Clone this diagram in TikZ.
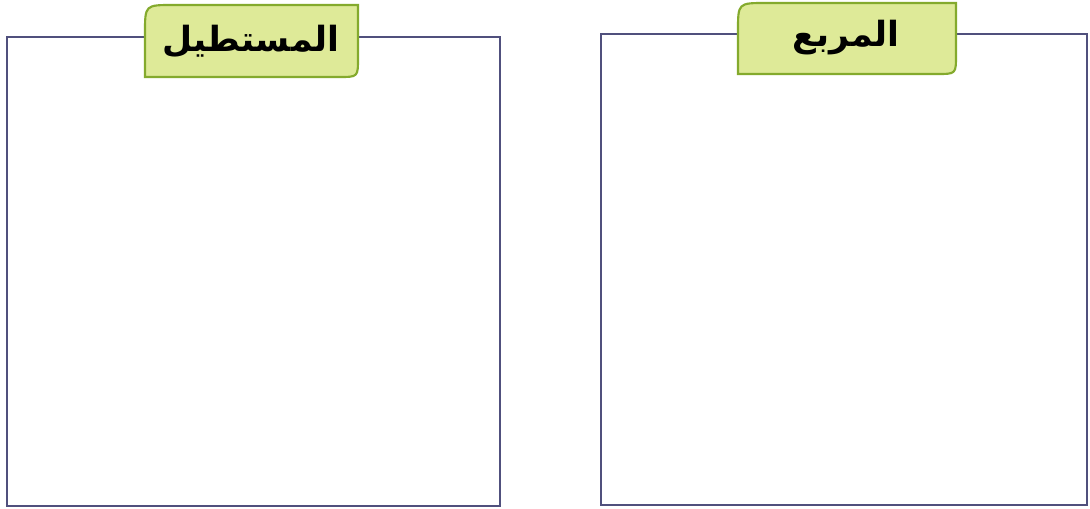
\documentclass[tikz,border=0pt]{standalone}
\usepackage{fontspec}
\TeXXeTstate=1
\newfontfamily\arabicfont[Script=Arabic]{DejaVu Sans}
\definecolor{boxline}{RGB}{80,80,125}
\definecolor{tabfill}{RGB}{222,234,152}
\definecolor{tabline}{RGB}{132,170,45}
\tikzset{
  panel/.style={draw=boxline, line width=1.9pt, fill=none},
  tabshape/.style={draw=tabline, line width=1.6pt, fill=tabfill},
  tablabel/.style={font=\arabicfont\bfseries\fontsize{26}{30}\selectfont, text=black, inner sep=0pt}
}
\begin{document}
\begin{tikzpicture}[x=0.75pt,y=-0.75pt]
\useasboundingbox (0,0) rectangle (1090,509);
\fill[white] (0,0) rectangle (1090,509);
% panels
\coordinate (L1) at (7,37);
\coordinate (L2) at (500,506);
\coordinate (R1) at (601,34);
\coordinate (R2) at (1087,505);
\draw[panel] (L1) rectangle (L2);
\draw[panel] (R1) rectangle (R2);
% left tab
\draw[tabshape] (145,77) -- (145,33) .. controls (145,5) .. (173,5) -- (358,5) -- (358,58) .. controls (358,77) .. (339,77) -- cycle;
\node[tablabel] (tabL) at (251,42) {\beginR المستطيل\endR};
% right tab
\draw[tabshape] (738,74) -- (738,31) .. controls (738,3) .. (766,3) -- (956,3) -- (956,55) .. controls (956,74) .. (937,74) -- cycle;
\node[tablabel] (tabR) at (846,38) {\beginR المربع\endR};
\end{tikzpicture}
\end{document}
